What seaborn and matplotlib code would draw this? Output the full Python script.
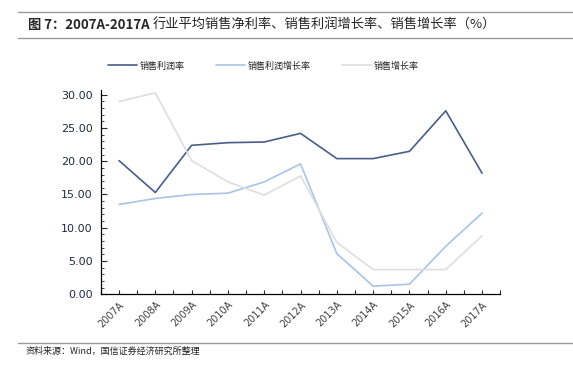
import numpy as np
import pandas as pd
import seaborn as sns
import matplotlib.pyplot as plt
from matplotlib.lines import Line2D
from matplotlib.ticker import MultipleLocator, FixedLocator

years = ["2007A", "2008A", "2009A", "2010A", "2011A", "2012A",
         "2013A", "2014A", "2015A", "2016A", "2017A"]
net_margin = [20.1, 15.3, 22.4, 22.8, 22.9, 24.2, 20.4, 20.4, 21.5, 27.6, 18.2]
profit_growth = [13.5, 14.4, 15.0, 15.2, 16.9, 19.6, 6.1, 1.2, 1.5, 7.2, 12.2]
sales_growth = [29.0, 30.3, 20.1, 16.9, 14.9, 17.8, 7.8, 3.7, 3.7, 3.7, 8.8]
series_names = ["销售利润率", "销售利润增长率", "销售增长率"]
colors = ["#4a5d8a", "#a8c3e6", "#dedede"]

sns.set_theme(style="white")
plt.rcParams["font.family"] = ["Noto Sans CJK SC", "DejaVu Sans"]

df = pd.DataFrame({"year": years, series_names[0]: net_margin,
                   series_names[1]: profit_growth, series_names[2]: sales_growth})
long = df.melt(id_vars="year", var_name="series", value_name="value")
long["x"] = long["year"].map({y: i for i, y in enumerate(years)})

fig = plt.figure(figsize=(5.73, 3.84), dpi=100)
ax = fig.add_axes([0.176, 0.234, 0.697, 0.532])

sns.lineplot(data=long, x="x", y="value", hue="series", hue_order=series_names,
             palette=colors, linewidth=1.2, legend=False, ax=ax)

ax.set_xlim(-0.5, 10.5)
ax.set_ylim(0, 30.75)
ax.set_xlabel("")
ax.set_ylabel("")
ax.xaxis.set_major_locator(FixedLocator(range(len(years))))
ax.xaxis.set_minor_locator(FixedLocator(np.arange(-0.5, 10.6, 1.0)))
ax.set_xticklabels(years, rotation=45, ha="right", rotation_mode="anchor",
                   fontsize=7, color="#404040", family="DejaVu Sans")
ax.yaxis.set_major_locator(MultipleLocator(5))
ax.yaxis.set_minor_locator(MultipleLocator(1))
ax.yaxis.set_major_formatter(lambda v, p: f"{v:.2f}")
for lab in ax.get_yticklabels():
    lab.set_family("DejaVu Sans")
ax.tick_params(axis="y", which="major", direction="in", length=4, width=0.8,
               labelsize=8, labelcolor="#1f2a44", pad=6, left=True)
ax.tick_params(axis="y", which="minor", direction="in", length=2, width=0.6, left=True)
ax.tick_params(axis="x", which="both", direction="in", length=3, width=0.8,
               bottom=True, pad=4)
for side in ["top", "right"]:
    ax.spines[side].set_visible(False)
for side in ["left", "bottom"]:
    ax.spines[side].set_color("black")
    ax.spines[side].set_linewidth(0.9)

handles = [Line2D([], [], color=c, linewidth=1.2) for c in colors]
fig.legend(handles, series_names, loc="center", bbox_to_anchor=(0.46, 0.828),
           ncol=3, frameon=False, fontsize=6.5, handlelength=3.2,
           columnspacing=3.5, handletextpad=0.3)

# title bar
fig.add_artist(Line2D([0.032, 1.0], [0.968, 0.968], color="#9a9a9a", linewidth=1.0))
fig.add_artist(Line2D([0.032, 1.0], [0.902, 0.902], color="#9a9a9a", linewidth=1.0))
t1 = fig.text(0.048, 0.935, "图 7：2007A-2017A", fontsize=9.5, weight="bold",
              va="center", family=["Noto Sans CJK SC", "DejaVu Sans"])
fig.canvas.draw()
bb = t1.get_window_extent(renderer=fig.canvas.get_renderer())
fig.text(bb.x1 / fig.bbox.width + 0.006, 0.935,
         "行业平均销售净利率、销售利润增长率、销售增长率（%）",
         fontsize=9.5, va="center", weight="medium")

# source footer
fig.add_artist(Line2D([0.032, 1.0], [0.108, 0.108], color="#9a9a9a", linewidth=1.0))
fig.text(0.045, 0.085, "资料来源：Wind，国信证券经济研究所整理", fontsize=6.5,
         va="center", color="#222222")

fig.savefig("out.png", dpi=100)
